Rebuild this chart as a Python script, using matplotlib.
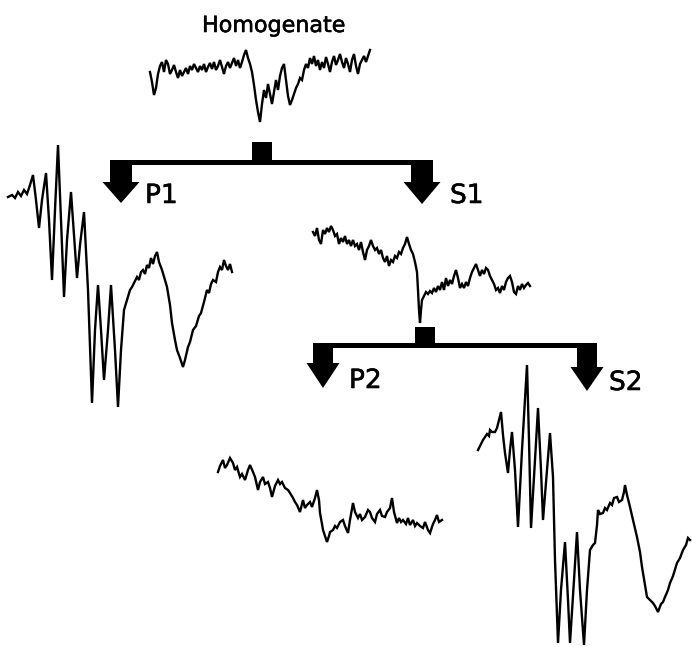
import numpy as np
import matplotlib
matplotlib.use("Agg")
import matplotlib.pyplot as plt
import matplotlib.patheffects as pe
from matplotlib.patches import Rectangle, Polygon

# EPR traces: field offset (a.u.) and signal (a.u., up = positive)
hom_signal = [0, -10, -23, -16, -2, 6, 10, 0, 12, 8,
              -2, 2, 7, 0, -6, 2, -4, 0, 4, -2,
              6, 2, 8, 4, 0, 6, 2, 8, 0, 5,
              9, 3, 10, 2, 6, 12, 5, -2, 6, 10,
              4, 9, 14, 6, 12, 4, 10, 17, 22, 14,
              8, 0, -13, -28, -40, -50, -32, -18, -26, -12,
              -22, -32, -20, -8, -18, -4, 4, 8, -8, -24,
              -33, -28, -22, -16, -12, -6, -8, 2, 8, 4,
              14, 8, 16, 6, 12, 2, 10, 4, 15, 8,
              0, 10, 16, 7, 12, 18, 10, 4, 14, 8,
              0, 12, 18, 6, -2, 8, 12, 16, 10, 16,
              22]

p1_field = [0, 4, 7, 10, 13, 16, 19, 22, 25, 28, 31, 34, 38, 41, 44, 47, 50, 53, 56, 59,
            63, 66, 69, 72, 76, 80, 84, 87, 90, 93, 96, 100, 103, 107, 110, 113, 116, 119, 122, 124,
            126, 129, 131, 133, 135, 137, 139, 141, 143, 145, 147, 149, 151, 154, 157, 159, 162, 164, 167, 169,
            172, 175, 177, 180, 182, 185, 188, 191, 193, 196, 199, 201, 203, 205, 208, 210, 212, 214, 216, 218,
            220, 222, 224]
p1_signal = [0, 2, -1, 5, 1, 7, 3, 12, 22, -3, -31, -3, 24, -23, -83, -13, 52, -23, -100, -43,
             5, -38, -81, -48, -15, -93, -206, -133, -88, -133, -183, -133, -88, -153, -210, -153, -113, -103, -93, -90,
             -86, -80, -83, -75, -73, -77, -68, -71, -61, -67, -59, -55, -65, -73, -83, -90, -108, -126, -143, -153,
             -161, -170, -163, -150, -145, -133, -129, -119, -116, -105, -93, -96, -87, -83, -85, -75, -70, -73, -63, -69,
             -73, -67, -75]

s1_field = [0, 2, 4, 6, 8, 10, 12, 14, 16, 18, 20, 22, 24, 26, 28, 30, 32, 34, 36, 38,
            40, 42, 44, 46, 48, 50, 52, 54, 56, 58, 60, 62, 64, 66, 68, 70, 72, 74, 76, 78,
            80, 82, 84, 86, 88, 90, 92, 94, 96, 98, 100, 102, 104, 105, 106, 107, 108, 109, 111, 113,
            115, 117, 119, 121, 123, 125, 127, 129, 131, 133, 135, 137, 139, 141, 143, 145, 147, 149, 151, 153,
            155, 157, 159, 161, 163, 165, 167, 169, 171, 173, 175, 177, 179, 181, 183, 185, 187, 189, 191, 193,
            195, 197, 199, 201, 203, 205, 207, 209, 211, 213, 215, 217]
s1_signal = [0, -4, 4, -8, -12, 2, -2, 4, 0, 6, 2, -4, -2, -12, -6, -10, -4, -12, -8, -14,
             -8, -14, -12, -18, -10, -20, -28, -18, -14, -8, -14, -18, -16, -22, -18, -26, -30, -24, -34, -28,
             -30, -24, -26, -20, -22, -16, -12, -5, -12, -18, -22, -30, -40, -58, -78, -91, -78, -68, -64, -60,
             -62, -59, -61, -56, -60, -54, -58, -50, -58, -46, -54, -48, -52, -44, -38, -46, -56, -52, -56, -50,
             -54, -46, -40, -36, -32, -38, -44, -38, -42, -36, -38, -44, -48, -52, -58, -56, -61, -54, -58, -50,
             -46, -44, -50, -60, -62, -54, -58, -52, -56, -53, -51, -54]

p2_field = [0, 2, 5, 7, 9, 12, 15, 17, 19, 22, 24, 27, 30, 32, 35, 37, 40, 42, 45, 47,
            50, 52, 54, 57, 60, 62, 64, 67, 70, 72, 75, 77, 79, 82, 85, 87, 89, 92, 94, 97,
            99, 101, 102, 104, 105, 107, 109, 111, 112, 115, 117, 119, 122, 125, 127, 130, 132, 135, 137, 140,
            142, 144, 147, 150, 152, 154, 157, 159, 162, 164, 167, 169, 172, 174, 176, 179, 181, 183, 185, 188,
            190, 192, 195, 197, 199, 202, 205, 207, 210, 212, 215, 217, 219, 221, 224]
p2_signal = [0, 6, 12, 4, 7, 14, 9, 2, 5, -5, -2, -8, 2, 7, 0, -5, -18, -10, -5, -12,
             -10, -16, -25, -14, -8, -12, -10, -16, -18, -21, -26, -30, -33, -40, -28, -36, -33, -30, -35, -26,
             -18, -28, -41, -52, -58, -64, -70, -64, -60, -58, -54, -56, -50, -48, -54, -61, -48, -31, -40, -46,
             -42, -48, -45, -38, -40, -46, -50, -42, -38, -44, -45, -40, -36, -26, -40, -51, -46, -50, -48, -52,
             -46, -53, -48, -54, -51, -54, -56, -50, -58, -61, -52, -48, -43, -50, -48]

s2_field = [0, 3, 5, 7, 9, 11, 12, 14, 17, 19, 21, 23, 25, 27, 30, 32, 34, 37, 40, 44,
            49, 51, 53, 57, 60, 63, 65, 69, 72, 75, 77, 80, 83, 87, 90, 92, 96, 99, 102, 106,
            109, 112, 115, 117, 119, 120, 122, 125, 127, 129, 132, 134, 136, 139, 141, 144, 146, 147, 149, 152,
            155, 159, 162, 164, 167, 169, 172, 175, 177, 180, 183, 185, 187, 190, 192, 195, 199, 202, 205, 208,
            210, 212]
s2_signal = [0, 6, 10, 13, 16, 14, 20, 18, 18, 22, 30, 38, 15, -3, -23, 0, 18, -20, -77, 0,
             85, 10, -78, -10, 42, -20, -70, -20, 17, -27, -110, -193, -140, -92, -150, -193, -130, -82, -140, -195,
             -140, -100, -95, -93, -75, -60, -64, -63, -58, -60, -53, -55, -48, -47, -52, -50, -42, -35, -45, -57,
             -70, -87, -102, -117, -135, -147, -150, -153, -156, -162, -154, -152, -147, -140, -133, -126, -113, -108, -100, -95,
             -88, -90]

labels = ["Homogenate", "P1", "S1", "P2", "S2"]

fig = plt.figure(figsize=(6.92, 6.47), dpi=100)
ax = fig.add_axes([0, 0, 1, 1])
ax.set_xlim(0, 692)
ax.set_ylim(647, 0)
ax.axis("off")

lw = 1.7


def trace(field, signal, x0, y0):
    f = np.asarray(field, dtype=float)
    s = np.asarray(signal, dtype=float)
    ax.plot(x0 + f, y0 - s, color="black", lw=lw, solid_joinstyle="miter")


trace(np.arange(len(hom_signal)) * 2, hom_signal, 150, 72)
trace(p1_field, p1_signal, 8, 197)
trace(s1_field, s1_signal, 313, 232)
trace(p2_field, p2_signal, 218, 472)
trace(s2_field, s2_signal, 478, 450)


def arrow(sx0, sx1, top, hx0, hx1, htop, tip):
    cx = (hx0 + hx1) / 2
    pts = [(sx0, top), (sx1, top), (sx1, htop), (hx1, htop), (cx, tip),
           (hx0, htop), (sx0, htop)]
    ax.add_patch(Polygon(pts, closed=True, color="black", lw=0))


def tree(bar_y, bar_h, x_left, x_right, sq_x, sq_y, sq_s,
         stem_w, head_w, head_top_l, tip_l, head_top_r, tip_r):
    ax.add_patch(Rectangle((x_left, bar_y), x_right - x_left, bar_h, color="black", lw=0))
    ax.add_patch(Rectangle((sq_x, sq_y), sq_s, sq_s, color="black", lw=0))
    lc = x_left + stem_w / 2
    rc = x_right - stem_w / 2
    arrow(x_left, x_left + stem_w, bar_y, lc - head_w / 2, lc + head_w / 2, head_top_l, tip_l)
    arrow(x_right - stem_w, x_right, bar_y, rc - head_w / 2, rc + head_w / 2, head_top_r, tip_r)


tree(160, 5, 110, 433, 252, 142, 20, 22, 37, 182, 203, 182, 204)
tree(343, 5, 313, 597, 415, 327, 20, 20, 33, 363, 388, 367, 391)

stroke = [pe.withStroke(linewidth=0.4, foreground="black")]
ax.text(202, 32, labels[0], fontsize=16, family="DejaVu Sans", va="baseline", ha="left",
        path_effects=stroke)
ax.text(145, 203, labels[1], fontsize=19, family="DejaVu Sans", va="baseline", ha="left",
        path_effects=stroke)
ax.text(450, 203, labels[2], fontsize=19, family="DejaVu Sans", va="baseline", ha="left",
        path_effects=stroke)
ax.text(349, 388, labels[3], fontsize=19, family="DejaVu Sans", va="baseline", ha="left",
        path_effects=stroke)
ax.text(609, 390, labels[4], fontsize=19, family="DejaVu Sans", va="baseline", ha="left",
        path_effects=stroke)

fig.savefig("out.png", dpi=100)
